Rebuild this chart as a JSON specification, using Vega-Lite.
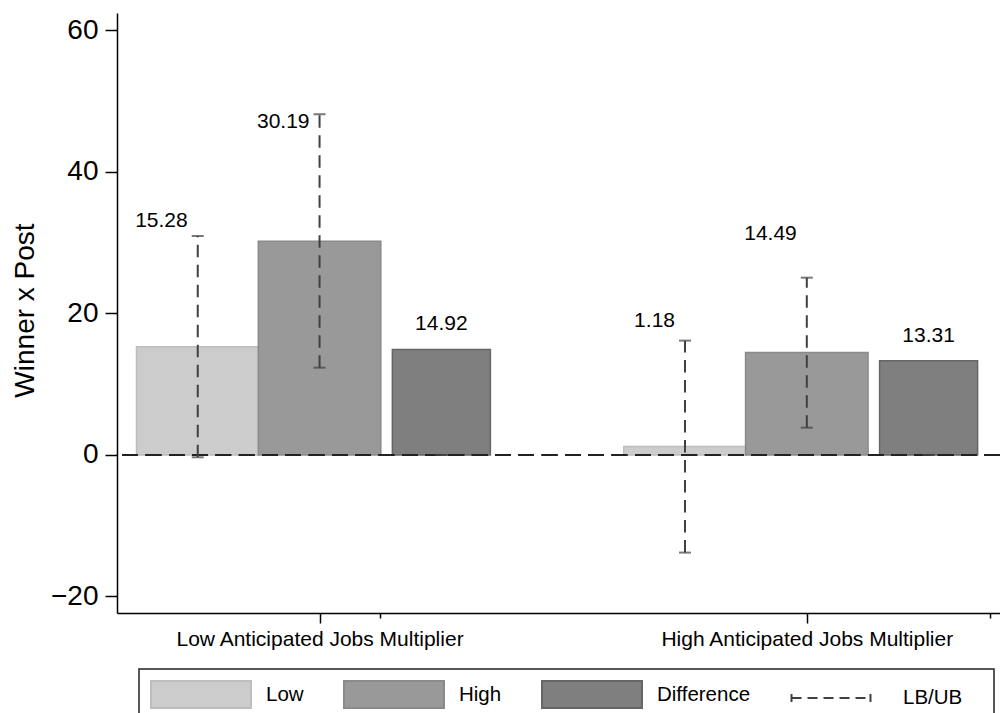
{
  "$schema": "https://vega.github.io/schema/vega-lite/v6.json",
  "width": 883,
  "height": 600,
  "autosize": "none",
  "padding": {"left": 117, "top": 13, "right": 0, "bottom": 100},
  "background": "white",
  "config": {
    "view": {"stroke": null},
    "font": "Liberation Sans",
    "axis": {"grid": false, "domainColor": "#000", "domainWidth": 1.5, "tickColor": "#000", "tickWidth": 1.5, "labelColor": "#000", "titleColor": "#000", "labelFont": "Liberation Sans", "titleFont": "Liberation Sans", "titleFontWeight": "normal"}
  },
  "data": {
    "values": [
      {"group": "Low Anticipated Jobs Multiplier", "series": "Low", "x": 1, "value": 15.28, "lb": -0.33, "ub": 30.95, "label_y": 33.0},
      {"group": "Low Anticipated Jobs Multiplier", "series": "High", "x": 2, "value": 30.19, "lb": 12.34, "ub": 48.16, "label_y": 47.0},
      {"group": "Low Anticipated Jobs Multiplier", "series": "Difference", "x": 3, "value": 14.92, "lb": 0, "ub": 0, "label_y": 18.5},
      {"group": "High Anticipated Jobs Multiplier", "series": "Low", "x": 5, "value": 1.18, "lb": -13.8, "ub": 16.16, "label_y": 19.0},
      {"group": "High Anticipated Jobs Multiplier", "series": "High", "x": 6, "value": 14.49, "lb": 3.86, "ub": 25.06, "label_y": 31.2},
      {"group": "High Anticipated Jobs Multiplier", "series": "Difference", "x": 7, "value": 13.31, "lb": 0, "ub": 0, "label_y": 16.75}
    ]
  },
  "layer": [
    {
      "transform": [{"filter": "datum.series !== 'Difference'"}],
      "mark": {"type": "bar", "width": 122.5, "strokeWidth": 1.5},
      "encoding": {
        "x": {
          "field": "x", "type": "quantitative",
          "scale": {"domain": [0.3782, 7.545], "nice": false, "zero": false},
          "axis": {
            "title": null,
            "values": [2, 2.5, 6, 7.5],
            "tickSize": {"condition": {"test": "datum.value === 2.5 || datum.value === 7.5", "value": 5}, "value": 10},
            "labelExpr": "datum.value === 2 ? 'Low Anticipated Jobs Multiplier' : datum.value === 6 ? 'High Anticipated Jobs Multiplier' : ''",
            "labelFontSize": 21,
            "labelPadding": 5,
            "labelLimit": 600,
            "labelFlush": false,
            "labelOverlap": false
          }
        },
        "y": {
          "field": "value", "type": "quantitative", "title": "Winner x Post",
          "scale": {"domain": [-22.34, 62.47], "nice": false, "zero": false},
          "axis": {
            "title": "Winner x Post",
            "values": [-20, 0, 20, 40, 60],
            "tickSize": 12,
            "labelPadding": 7,
            "labelFontSize": 28,
            "titleFontSize": 28,
            "titleX": -84,
            "titleY": 297,
            "titleBaseline": "alphabetic",
            "titleAngle": 270
          }
        },
        "y2": {"datum": 0},
        "fill": {
          "field": "series", "type": "nominal",
          "scale": {"domain": ["Low", "High", "Difference", "LB/UB"], "range": ["#cccccc", "#999999", "#7f7f7f", "#ffffff"]},
          "legend": {
            "title": null,
            "orient": "none",
            "legendX": 22,
            "legendY": 656,
            "direction": "horizontal",
            "padding": 11,
            "strokeColor": "#222222",
            "columnPadding": 36,
            "symbolSize": 729,
            "labelOffset": 87,
            "labelFont": "Liberation Sans",
            "labelFontSize": 20.5,
            "labelColor": "#000000",
            "labelLimit": 400,
            "encode": {
              "legend": {"update": {"strokeWidth": {"value": 1.5}}},
              "symbols": {
                "update": {
                  "shape": {"signal": "datum.value === 'LB/UB' ? 'M-0.74,-0.3V0.3M-0.74,0H5.11M5.11,-0.3V0.3M13.1,0L13.1,0' : 'M-1,-1H6.407V1H-1Z'"},
                  "fill": {"signal": "datum.value === 'Low' ? '#cccccc' : datum.value === 'High' ? '#999999' : datum.value === 'Difference' ? '#7f7f7f' : 'transparent'"},
                  "stroke": {"signal": "datum.value === 'Low' ? '#b8b8b8' : datum.value === 'High' ? '#888888' : datum.value === 'Difference' ? '#666666' : '#404040'"},
                  "strokeDash": {"signal": "datum.value === 'LB/UB' ? [10, 6] : [1, 0]"},
                  "strokeCap": {"value": "butt"},
                  "strokeWidth": {"value": 2},
                  "opacity": {"value": 1},
                  "fillOpacity": {"value": 1}
                }
              }
            }
          }
        },
        "stroke": {
          "field": "series", "type": "nominal",
          "scale": {"domain": ["Low", "High", "Difference", "LB/UB"], "range": ["#bdbdbd", "#8a8a8a", "#666666", "#404040"]},
          "legend": null
        }
      }
    },
    {
      "transform": [{"filter": "datum.series === 'Difference'"}],
      "mark": {"type": "bar", "width": 98, "strokeWidth": 1.5},
      "encoding": {
        "x": {"field": "x", "type": "quantitative"},
        "y": {"field": "value", "type": "quantitative", "title": "Winner x Post"},
        "y2": {"datum": 0},
        "fill": {"field": "series", "type": "nominal"},
        "stroke": {"field": "series", "type": "nominal", "legend": null}
      }
    },
    {
      "mark": {"type": "rule", "color": "#222222", "strokeWidth": 2, "strokeDash": [15.5, 7.8]},
      "encoding": {"y": {"datum": 0}}
    },
    {
      "transform": [{"filter": "datum.series !== 'Difference'"}],
      "mark": {"type": "rule", "color": "#404040", "strokeWidth": 2, "strokeDash": [12.5, 7.5]},
      "encoding": {
        "x": {"field": "x", "type": "quantitative"},
        "y": {"field": "lb", "type": "quantitative", "title": "Winner x Post"},
        "y2": {"field": "ub"}
      }
    },
    {
      "mark": {"type": "tick", "orient": "horizontal", "color": "#404040", "size": 12, "thickness": 2},
      "encoding": {
        "x": {"field": "x", "type": "quantitative"},
        "y": {"field": "lb", "type": "quantitative", "title": "Winner x Post"}
      }
    },
    {
      "mark": {"type": "tick", "orient": "horizontal", "color": "#404040", "size": 12, "thickness": 2},
      "encoding": {
        "x": {"field": "x", "type": "quantitative"},
        "y": {"field": "ub", "type": "quantitative", "title": "Winner x Post"}
      }
    },
    {
      "transform": [{"filter": "datum.series !== 'Difference'"}],
      "mark": {"type": "text", "align": "right", "baseline": "middle", "dx": -10, "fontSize": 21, "font": "Liberation Sans", "color": "#000000"},
      "encoding": {
        "x": {"field": "x", "type": "quantitative"},
        "y": {"field": "label_y", "type": "quantitative", "title": "Winner x Post"},
        "text": {"field": "value", "type": "quantitative", "format": ".2f"}
      }
    },
    {
      "transform": [{"filter": "datum.series === 'Difference'"}],
      "mark": {"type": "text", "align": "center", "baseline": "middle", "fontSize": 21, "font": "Liberation Sans", "color": "#000000"},
      "encoding": {
        "x": {"field": "x", "type": "quantitative"},
        "y": {"field": "label_y", "type": "quantitative", "title": "Winner x Post"},
        "text": {"field": "value", "type": "quantitative", "format": ".2f"}
      }
    }
  ]
}
